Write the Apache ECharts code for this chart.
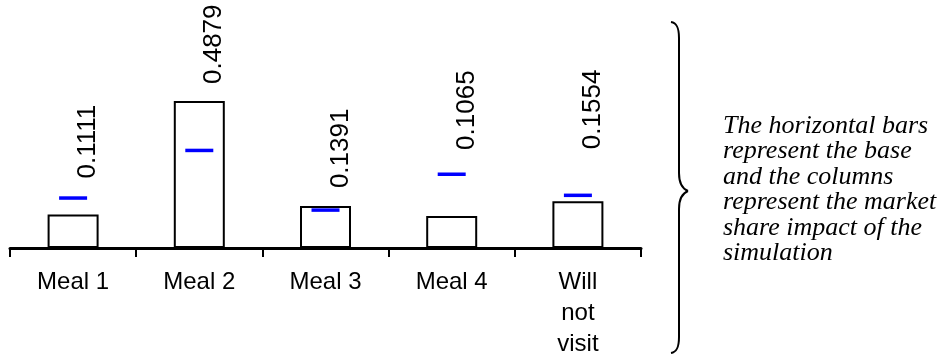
<!DOCTYPE html>
<html>
<head>
<meta charset="utf-8">
<script src="https://cdn.jsdelivr.net/npm/echarts@6/dist/echarts.min.js"></script>
<style>
  html, body { margin: 0; padding: 0; background: #fff; }
  #chart { width: 944px; height: 360px; }
</style>
</head>
<body>
<div id="chart"></div>
<script>
// ---- data ----
const categories = ['Meal 1', 'Meal 2', 'Meal 3', 'Meal 4', 'Will\nnot\nvisit'];
const simulation = [0.1111, 0.4879, 0.1391, 0.1065, 0.1554];
const base = [0.165, 0.323, 0.125, 0.244, 0.174];
const noteLines = [
  'The horizontal bars',
  'represent the base',
  'and the columns',
  'represent the market',
  'share impact of the',
  'simulation'
];

// ---- styling (pixel lifts of value labels above bar tops) ----
const labelLift = [36, 17, 18, 66, 52];

const chart = echarts.init(document.getElementById('chart'), null, { renderer: 'canvas' });

const option = {
  animation: false,
  backgroundColor: '#fff',
  grid: { left: 10, right: 303, top: 10, bottom: 110, containLabel: false },
  xAxis: {
    type: 'category',
    data: categories,
    boundaryGap: true,
    axisLine: { show: true, lineStyle: { color: '#000', width: 3 } },
    axisTick: { show: true, length: 9, lineStyle: { color: '#000', width: 2 } },
    axisLabel: {
      color: '#000',
      fontFamily: 'Liberation Sans, Arial, sans-serif',
      fontSize: 24,
      lineHeight: 31,
      margin: 19,
      interval: 0
    },
    splitLine: { show: false }
  },
  yAxis: {
    type: 'value',
    min: 0,
    max: 0.79,
    show: false
  },
  series: [
    {
      type: 'bar',
      data: simulation,
      barWidth: 51,
      itemStyle: { color: '#fff', borderColor: '#000', borderWidth: 2 },
      z: 2
    },
    {
      type: 'custom',
      z: 5,
      data: base.map((v, i) => [i, v]),
      renderItem: function (params, api) {
        const p = api.coord([api.value(0), api.value(1)]);
        return {
          type: 'rect',
          shape: { x: p[0] - 14, y: p[1] - 2, width: 28, height: 3.5 },
          style: { fill: '#0000ff' }
        };
      }
    },
    {
      type: 'custom',
      z: 6,
      data: simulation.map((v, i) => [i, v]),
      renderItem: function (params, api) {
        const idx = params.dataIndex;
        const p = api.coord([api.value(0), api.value(1)]);
        return {
          type: 'text',
          x: p[0] + 15,
          y: p[1] - labelLift[idx],
          rotation: Math.PI / 2,
          style: {
            text: simulation[idx].toFixed(4),
            font: '26px "Liberation Sans", Arial, sans-serif',
            fill: '#000',
            align: 'left',
            verticalAlign: 'middle'
          }
        };
      }
    }
  ],
  graphic: [
    {
      type: 'group',
      children: [
        { type: 'bezierCurve', shape: { x1: 671, y1: 22, cpx1: 677, cpy1: 23, cpx2: 679, cpy2: 28, x2: 679, y2: 38 }, style: { stroke: '#000', lineWidth: 2, fill: null } },
        { type: 'line', shape: { x1: 679, y1: 38, x2: 679, y2: 173 }, style: { stroke: '#000', lineWidth: 2 } },
        { type: 'bezierCurve', shape: { x1: 679, y1: 173, cpx1: 679, cpy1: 184, cpx2: 683, cpy2: 189, x2: 688, y2: 191 }, style: { stroke: '#000', lineWidth: 2, fill: null } },
        { type: 'bezierCurve', shape: { x1: 688, y1: 191, cpx1: 683, cpy1: 193, cpx2: 679, cpy2: 198, x2: 679, y2: 209 }, style: { stroke: '#000', lineWidth: 2, fill: null } },
        { type: 'line', shape: { x1: 679, y1: 209, x2: 679, y2: 337 }, style: { stroke: '#000', lineWidth: 2 } },
        { type: 'bezierCurve', shape: { x1: 679, y1: 337, cpx1: 679, cpy1: 347, cpx2: 677, cpy2: 352, x2: 671, y2: 353 }, style: { stroke: '#000', lineWidth: 2, fill: null } }
      ]
    },
    {
      type: 'text',
      x: 723,
      y: 113,
      style: {
        text: noteLines.join('\n'),
        font: 'italic 26px "Liberation Serif", "Times New Roman", serif',
        lineHeight: 25.5,
        fill: '#000',
        align: 'left',
        verticalAlign: 'top'
      }
    }
  ]
};

chart.setOption(option);
</script>
</body>
</html>
